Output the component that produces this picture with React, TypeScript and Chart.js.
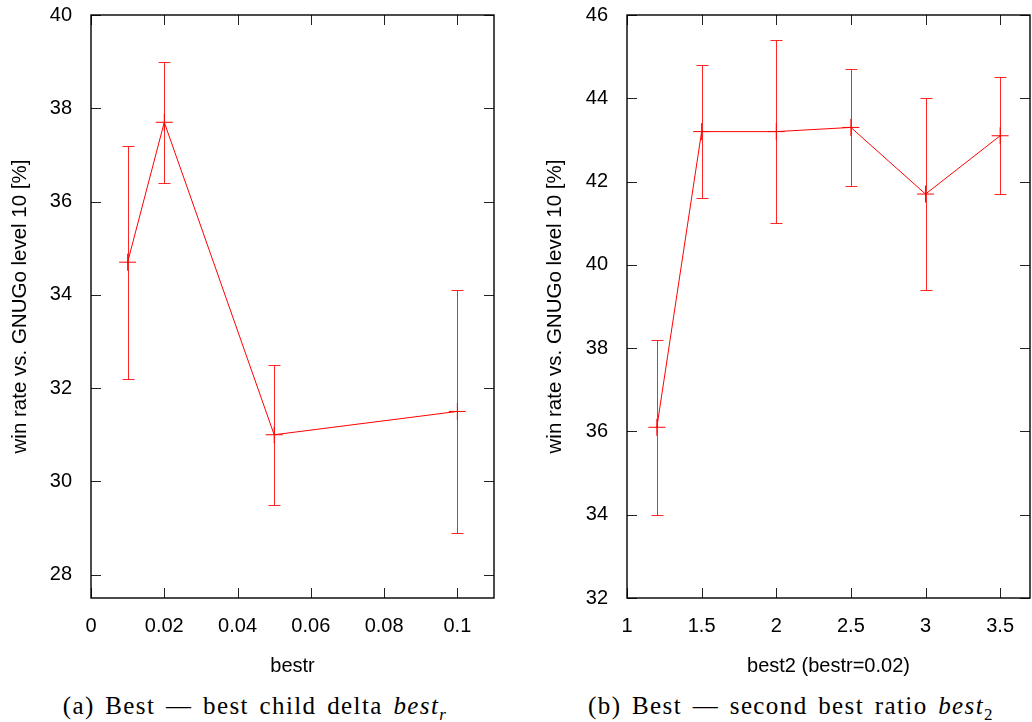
import React, { useEffect, useRef } from 'react';
import { Chart, registerables } from 'chart.js';
Chart.register(...registerables);

// ---- data: (a) best child delta bestr ----
const bestrX = [0.01, 0.02, 0.05, 0.1];
const bestrY = [34.7, 37.7, 31.0, 31.5];
const bestrLo = [32.2, 36.4, 29.5, 28.9];
const bestrHi = [37.2, 39.0, 32.5, 34.1];
const bestrXTicks = [0, 0.02, 0.04, 0.06, 0.08, 0.1];
const bestrYTicks = [28, 30, 32, 34, 36, 38, 40];

// ---- data: (b) second best ratio best2 ----
const best2X = [1.2, 1.5, 2, 2.5, 3, 3.5];
const best2Y = [36.1, 43.2, 43.2, 43.3, 41.7, 43.1];
const best2Lo = [34.0, 41.6, 41.0, 41.9, 39.4, 41.7];
const best2Hi = [38.2, 44.8, 45.4, 44.7, 44.0, 44.5];
const best2XTicks = [1, 1.5, 2, 2.5, 3, 3.5];
const best2YTicks = [32, 34, 36, 38, 40, 42, 44, 46];

const yTitle = 'win rate vs. GNUGo level 10 [%]';
const SANS = '"Liberation Sans", Arial, Helvetica, sans-serif';

interface PanelSpec {
  xs: number[]; ys: number[]; lo: number[]; hi: number[];
  xTicks: number[]; yTicks: number[];
  xMin: number; xMax: number; yMin: number; yMax: number;
  xTitle: string; yAxisWidth: number; rightPad: number; yTitlePad: number;
}

function gnuplotPlugin(spec: PanelSpec) {
  return {
    id: 'gnuplotFrame',
    beforeDatasetsDraw(chart: any) {
      const { ctx } = chart;
      const xs = chart.scales.x, ys = chart.scales.y;
      ctx.save();
      ctx.strokeStyle = 'rgba(255,0,0,0.85)';
      ctx.lineWidth = 1;
      spec.xs.forEach((xv, i) => {
        const px = Math.round(xs.getPixelForValue(xv)) + 0.5;
        const pLo = Math.round(ys.getPixelForValue(spec.lo[i])) + 0.5;
        const pHi = Math.round(ys.getPixelForValue(spec.hi[i])) + 0.5;
        ctx.beginPath();
        ctx.moveTo(px, pLo); ctx.lineTo(px, pHi);
        ctx.moveTo(px - 6, pLo); ctx.lineTo(px + 6, pLo);
        ctx.moveTo(px - 6, pHi); ctx.lineTo(px + 6, pHi);
        ctx.stroke();
      });
      ctx.restore();
    },
    afterDraw(chart: any) {
      const { ctx, chartArea: a } = chart;
      const xs = chart.scales.x, ys = chart.scales.y;
      ctx.save();
      ctx.strokeStyle = '#222';
      ctx.lineWidth = 1;
      ctx.beginPath();
      spec.xTicks.forEach((v) => {
        const px = Math.round(xs.getPixelForValue(v)) + 0.5;
        ctx.moveTo(px, a.bottom); ctx.lineTo(px, a.bottom - 10);
        ctx.moveTo(px, a.top); ctx.lineTo(px, a.top + 10);
      });
      spec.yTicks.forEach((v) => {
        const py = Math.round(ys.getPixelForValue(v)) + 0.5;
        ctx.moveTo(a.left, py); ctx.lineTo(a.left + 10, py);
        ctx.moveTo(a.right, py); ctx.lineTo(a.right - 10, py);
      });
      ctx.stroke();
      ctx.strokeStyle = '#000';
      ctx.lineWidth = 1.4;
      ctx.strokeRect(a.left, a.top, a.right - a.left, a.bottom - a.top);
      ctx.restore();
    },
  };
}

function Panel({ spec, left }: { spec: PanelSpec; left: number }) {
  const ref = useRef<HTMLCanvasElement>(null);
  useEffect(() => {
    if (!ref.current) return;
    const tickFont = { family: SANS, size: 20 };
    const chart = new Chart(ref.current, {
      type: 'line',
      data: {
        datasets: [{
          data: spec.xs.map((x, i) => ({ x, y: spec.ys[i] })),
          borderColor: '#ff0000',
          borderWidth: 1,
          pointStyle: 'cross',
          pointRadius: 8.5,
          pointBorderColor: '#ff0000',
          pointBorderWidth: 1,
          tension: 0,
          fill: false,
        }],
      },
      options: {
        animation: false,
        responsive: false,
        maintainAspectRatio: false,
        layout: { autoPadding: false, padding: { top: 15, right: spec.rightPad, left: 0, bottom: 0 } },
        plugins: { legend: { display: false }, tooltip: { enabled: false } },
        scales: {
          x: {
            type: 'linear', min: spec.xMin, max: spec.xMax,
            grid: { display: false }, border: { display: false },
            afterBuildTicks: (s: any) => { s.ticks = spec.xTicks.map((v) => ({ value: v })); },
            afterFit: (s: any) => { s.height = 82; s.paddingLeft = 0; s.paddingRight = 0; },
            ticks: { color: '#000', font: tickFont, padding: 8, maxRotation: 0, autoSkip: false, callback: (v: any) => String(v) },
            title: { display: true, text: spec.xTitle, color: '#000', font: tickFont, padding: { top: 0, bottom: 2 } },
          },
          y: {
            type: 'linear', min: spec.yMin, max: spec.yMax,
            grid: { display: false }, border: { display: false },
            afterBuildTicks: (s: any) => { s.ticks = spec.yTicks.map((v) => ({ value: v })); },
            afterFit: (s: any) => { s.width = spec.yAxisWidth; s.paddingTop = 0; s.paddingBottom = 0; },
            ticks: { color: '#000', font: tickFont, padding: 11, autoSkip: false, callback: (v: any) => String(v) },
            title: { display: true, text: yTitle, color: '#000', font: { family: SANS, size: 20.5 }, padding: { top: spec.yTitlePad, bottom: 0 } },
          },
        },
      },
      plugins: [gnuplotPlugin(spec)],
    } as any);
    return () => chart.destroy();
  }, [spec]);
  return (
    <canvas ref={ref} width={516} height={680}
      style={{ position: 'absolute', left, top: 0, width: 516, height: 680 }} />
  );
}

const specA: PanelSpec = {
  xs: bestrX, ys: bestrY, lo: bestrLo, hi: bestrHi,
  xTicks: bestrXTicks, yTicks: bestrYTicks,
  xMin: 0, xMax: 0.11, yMin: 27.5, yMax: 40,
  xTitle: 'bestr', yAxisWidth: 91, rightPad: 22, yTitlePad: 8,
};
const specB: PanelSpec = {
  xs: best2X, ys: best2Y, lo: best2Lo, hi: best2Hi,
  xTicks: best2XTicks, yTicks: best2YTicks,
  xMin: 1, xMax: 3.7, yMin: 32, yMax: 46,
  xTitle: 'best2 (bestr=0.02)', yAxisWidth: 111, rightPad: 2, yTitlePad: 27,
};

const captionStyle: React.CSSProperties = {
  position: 'absolute', top: 692, fontFamily: '"Liberation Serif", "Times New Roman", serif',
  fontSize: 25, lineHeight: '28px', letterSpacing: '1.4px', wordSpacing: '3px',
  textAlign: 'center', color: '#000', whiteSpace: 'nowrap',
};

export default function App() {
  return (
    <div style={{ position: 'fixed', left: 0, top: 0, width: 1032, height: 722, background: '#fff', overflow: 'hidden' }}>
      <Panel spec={specA} left={0} />
      <Panel spec={specB} left={516} />
      <div style={{ ...captionStyle, left: 0, width: 510 }}>
        (a) Best — best child delta <i>best</i><sub style={{ fontSize: 17, fontStyle: 'italic', lineHeight: 0 }}>r</sub>
      </div>
      <div style={{ ...captionStyle, left: 560, width: 462 }}>
        (b) Best — second best ratio <i>best</i><sub style={{ fontSize: 17, lineHeight: 0 }}>2</sub>
      </div>
    </div>
  );
}
